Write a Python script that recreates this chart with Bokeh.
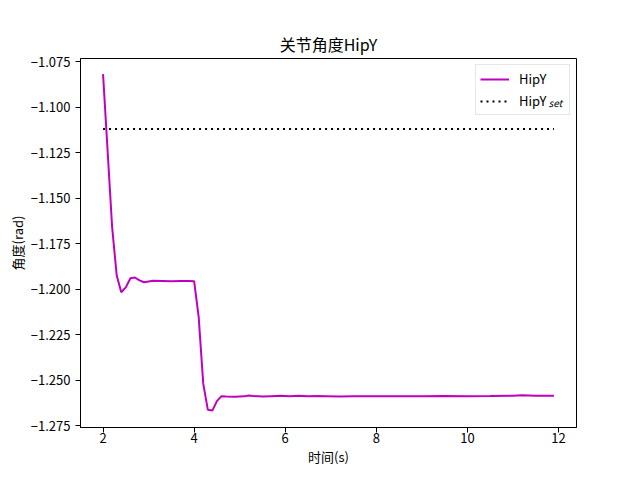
from bokeh.plotting import figure
from bokeh.models import Range1d, FixedTicker, Label, Legend, LegendItem, CustomJSTickFormatter
from bokeh.embed import file_html
from bokeh.resources import INLINE

# ---- data ----
time = [2.0, 2.1, 2.2, 2.3, 2.4, 2.5, 2.6, 2.7, 2.8, 2.9, 3.0, 3.1, 3.3, 3.5, 3.7, 3.9,
        4.0, 4.1, 4.2, 4.3, 4.4, 4.5, 4.6, 4.7, 4.9, 5.1, 5.2, 5.3, 5.5, 5.7, 5.9,
        6.1, 6.3, 6.5, 6.7, 6.9, 7.2, 7.5, 7.8, 8.1, 8.5, 9.0, 9.5, 10.0, 10.5,
        11.0, 11.2, 11.5, 11.9]
hipy = [-1.0819, -1.1240, -1.1661, -1.1925, -1.2017, -1.1990, -1.1940, -1.1936,
        -1.1952, -1.1962, -1.1958, -1.1954, -1.1955, -1.1956, -1.1955, -1.1955,
        -1.1956, -1.2154, -1.2519, -1.2662, -1.2667, -1.2615, -1.2588, -1.2590,
        -1.2591, -1.2589, -1.2584, -1.2587, -1.2590, -1.2588, -1.2586,
        -1.2588, -1.2586, -1.2588, -1.2587, -1.2588, -1.2590, -1.2589, -1.2588,
        -1.2589, -1.2588, -1.2588, -1.2587, -1.2588, -1.2587,
        -1.2585, -1.2583, -1.2586, -1.2585]
set_time = [2.0, 11.9]
hipy_set = [-1.112, -1.112]

x_ticks = [2, 4, 6, 8, 10, 12]
y_ticks = [-1.275, -1.25, -1.225, -1.2, -1.175, -1.15, -1.125, -1.1, -1.075]

FONT = "Noto Sans CJK SC"

p = figure(width=640, height=480, output_backend="svg", toolbar_location=None,
           x_range=Range1d(1.505, 12.395), y_range=Range1d(-1.2760, -1.0733),
           min_border_left=80, min_border_right=64, min_border_top=58,
           min_border_bottom=53, title="关节角度HipY")

p.background_fill_color = "white"
p.border_fill_color = "white"
p.outline_line_color = "black"
p.outline_line_width = 1
p.xgrid.visible = False
p.ygrid.visible = False

p.title.align = "center"
p.title.text_font = FONT
p.title.text_font_size = "16px"
p.title.text_font_style = "normal"
p.title.text_color = "black"
p.title.standoff = 6

for ax in (p.xaxis[0], p.yaxis[0]):
    ax.axis_line_color = "black"
    ax.major_tick_line_color = "black"
    ax.major_tick_out = 5
    ax.major_tick_in = 0
    ax.minor_tick_line_color = None
    ax.major_label_text_font = FONT
    ax.major_label_text_font_size = "13px"
    ax.major_label_text_color = "black"
    ax.axis_label_text_font = FONT
    ax.axis_label_text_font_size = "13px"
    ax.axis_label_text_font_style = "normal"
    ax.axis_label_text_color = "black"

p.xaxis.major_label_standoff = 0
p.xaxis.axis_label_standoff = 1
p.yaxis.major_label_standoff = 5
p.yaxis.axis_label_standoff = 1

p.xaxis.ticker = FixedTicker(ticks=x_ticks)
p.yaxis.ticker = FixedTicker(ticks=y_ticks)
p.yaxis.formatter = CustomJSTickFormatter(code="return tick.toFixed(3).replace('-', '\u2212');")
p.xaxis.axis_label = "时间(s)"
p.yaxis.axis_label = "角度(rad)"

r1 = p.line(time, hipy, line_color="#bf00bf", line_width=2)
r2 = p.line(set_time, hipy_set, line_color="black", line_width=2, line_dash="2 4")

legend = Legend(items=[LegendItem(label="HipY", renderers=[r1]),
                       LegendItem(label="HipY", renderers=[r2])],
                location="top_right", margin=6, padding=4,
                glyph_width=29, glyph_height=14, label_height=14, label_width=46,
                label_standoff=10, spacing=3,
                label_text_font=FONT, label_text_font_size="13px",
                label_text_color="black",
                border_line_color="#cccccc", border_line_width=1,
                background_fill_color="white", background_fill_alpha=0.0)
p.add_layout(legend)

sub = Label(x=11.78, y=-1.0975, text="set", text_font=FONT, text_font_size="10px",
            text_font_style="italic", text_baseline="middle", text_color="black",
            level="overlay")
p.add_layout(sub)

open("out.html", "w").write(file_html(p, INLINE))
